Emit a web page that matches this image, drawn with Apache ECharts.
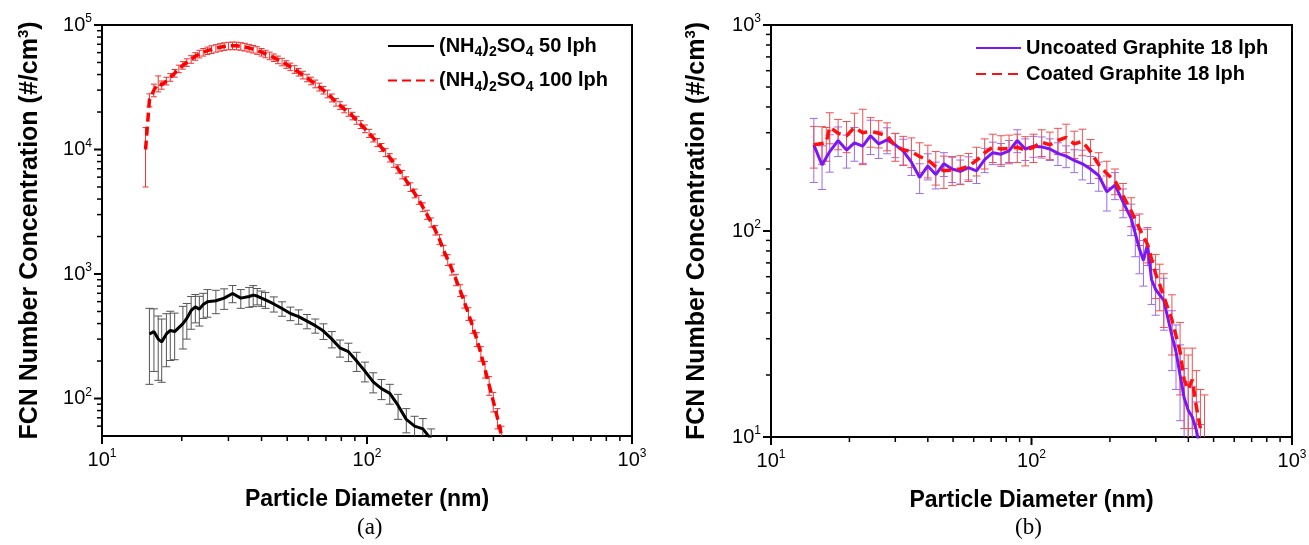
<!DOCTYPE html>
<html><head><meta charset="utf-8">
<script src="https://cdn.jsdelivr.net/npm/echarts@6/dist/echarts.min.js"></script>
<style>html,body{margin:0;padding:0;background:#fff}#c{width:1309px;height:545px}</style>
</head><body><div id="c"></div>
<script>
// ---- Panel (a): (NH4)2SO4 50 lph ----
const dA50 = [15.1, 15.7, 16.3, 16.8, 17.5, 18.1, 18.8, 20.2, 20.9, 21.7, 22.5, 23.3, 24.1, 25.0, 26.9, 28.9, 31.1, 33.4, 35.9, 37.2, 38.5, 40.0, 41.4, 44.5, 47.8, 51.4, 55.2, 59.4, 63.8, 68.5, 73.7, 79.1, 85.1, 91.4, 98.2, 105.5, 113.4, 121.9, 131.0, 140.7, 151.2, 162.5, 174.7];
const vA50 = [330, 345, 300, 285, 330, 352, 345, 400, 440, 510, 545, 522, 570, 600, 610, 640, 698, 640, 660, 677, 665, 640, 620, 575, 528, 482, 455, 418, 385, 348, 300, 255, 238, 200, 166, 136, 120, 110, 88, 68, 60, 57, 47];
const eA50 = [200, 180, 160, 150, 150, 150, 140, 150, 140, 150, 140, 140, 130, 150, 130, 120, 110, 110, 120, 130, 100, 90, 90, 80, 70, 60, 60, 55, 50, 50, 45, 40, 40, 35, 30, 25, 22, 20, 20, 15, 12, 12, 10];
// ---- Panel (a): (NH4)2SO4 100 lph ----
const dA100 = [14.6, 15.1, 15.7, 16.3, 16.8, 17.5, 18.1, 18.8, 19.5, 20.2, 20.9, 21.7, 22.5, 23.3, 24.1, 25.0, 25.9, 26.9, 27.9, 28.9, 30.0, 31.1, 32.2, 33.4, 34.6, 35.9, 37.2, 38.5, 40.0, 41.4, 42.9, 44.5, 46.1, 47.8, 49.6, 51.4, 53.3, 55.2, 57.3, 59.4, 61.5, 63.8, 66.1, 68.5, 71.0, 73.7, 76.4, 79.1, 82.0, 85.1, 88.2, 91.4, 94.7, 98.2, 101.8, 105.5, 109.4, 113.4, 117.6, 121.9, 126.3, 131.0, 135.8, 140.7, 145.9, 151.2, 156.8, 162.5, 168.5, 174.7, 181.1, 187.7, 194.6, 201.7, 209.1, 216.7, 224.7, 232.9, 241.4, 250.3, 259.5, 269.0, 278.8, 289.0, 299.6, 310.6, 322.0, 333.8];
const vA100 = [10000, 25000, 30000, 34000, 33000, 35500, 38000, 41000, 44500, 47500, 50000, 53000, 56000, 58500, 60500, 62200, 63600, 65000, 66200, 67200, 67900, 68200, 68000, 67400, 66500, 65300, 64000, 62500, 60500, 58600, 56600, 54700, 52600, 50500, 48300, 46200, 44000, 41800, 39700, 37600, 35600, 33700, 31800, 30000, 28000, 26000, 24000, 22600, 21200, 19900, 18600, 17200, 15900, 14700, 13500, 12400, 11400, 10400, 9500, 8600, 7800, 7000, 6300, 5600, 5000, 4450, 3950, 3450, 3000, 2600, 2250, 1900, 1550, 1300, 1090, 900, 740, 600, 480, 380, 300, 230, 172, 128, 95, 70, 50, 36];
const eA100 = [5000, 3000, 3500, 5000, 2500, 2500, 2700, 2900, 3100, 3300, 3500, 3700, 3900, 4100, 4200, 4300, 4500, 4500, 4600, 4700, 4700, 4800, 4800, 4700, 4700, 4600, 4500, 4400, 4200, 4100, 4000, 3800, 3700, 3500, 3400, 3200, 3100, 2900, 2800, 2600, 2500, 2400, 2300, 2100, 2000, 1900, 1700, 1600, 1500, 1400, 1300, 1250, 1150, 1050, 1000, 900, 850, 780, 720, 660, 600, 540, 490, 440, 400, 360, 320, 280, 250, 220, 195, 170, 150, 130, 110, 95, 80, 68, 56, 46, 38, 31, 26, 22, 17, 13, 10, 8];
// ---- Panel (b): Uncoated Graphite 18 lph ----
const dBunc = [14.6, 15.7, 16.8, 18.1, 19.5, 20.9, 22.5, 24.1, 25.9, 27.9, 30.0, 32.2, 34.6, 37.2, 40.0, 42.9, 46.1, 49.6, 53.3, 57.3, 61.5, 66.1, 71.0, 76.4, 82.0, 88.2, 94.7, 101.8, 109.4, 117.6, 126.3, 135.8, 145.9, 156.8, 168.5, 181.1, 194.6, 209.1, 224.7, 241.4, 250.3, 259.5, 269.0, 278.8, 289.0, 299.6, 322.0, 346.0, 358.7, 371.8, 385.4, 399.5, 414.2, 429.4, 445.1];
const vBunc = [262, 209, 243, 275, 247, 268, 258, 290, 265, 277, 262, 244, 216, 182, 207, 188, 212, 200, 195, 203, 196, 222, 240, 236, 245, 275, 250, 258, 256, 250, 238, 231, 220, 212, 200, 186, 155, 167, 138, 115, 97, 82, 72, 86, 58, 52, 46, 31, 26, 20, 15.5, 13.5, 12.5, 10.8, 8.5];
const eBunc = [90, 50, 50, 45, 45, 50, 45, 55, 40, 40, 35, 35, 30, 30, 30, 28, 28, 28, 26, 26, 26, 30, 30, 30, 30, 35, 30, 30, 30, 30, 30, 28, 28, 35, 30, 30, 30, 25, 22, 20, 22, 20, 18, 18, 14, 13, 13, 10, 9, 8, 6, 5, 5, 4, 3];
// ---- Panel (b): Coated Graphite 18 lph ----
const dBcoat = [14.6, 15.7, 16.3, 16.8, 18.1, 19.5, 20.9, 22.5, 24.1, 25.9, 27.9, 30.0, 32.2, 34.6, 37.2, 40.0, 42.9, 46.1, 49.6, 53.3, 57.3, 61.5, 66.1, 71.0, 76.4, 82.0, 88.2, 94.7, 101.8, 109.4, 117.6, 126.3, 135.8, 145.9, 156.8, 168.5, 181.1, 194.6, 209.1, 224.7, 241.4, 259.5, 278.8, 299.6, 310.6, 322.0, 346.0, 371.8, 385.4, 399.5, 414.2, 429.4, 445.1, 461.4];
const vBcoat = [262, 266, 268, 320, 298, 290, 318, 300, 305, 298, 290, 258, 248, 243, 230, 221, 205, 196, 198, 200, 206, 220, 240, 255, 250, 252, 255, 247, 255, 270, 262, 275, 285, 265, 272, 243, 210, 190, 175, 148, 125, 103, 86, 62, 55, 48, 37, 26, 19, 17, 19, 14, 11, 11];
const eBcoat = [60, 55, 50, 55, 50, 50, 55, 90, 50, 45, 45, 40, 40, 40, 38, 40, 38, 35, 32, 32, 32, 35, 40, 40, 40, 40, 40, 40, 40, 40, 40, 40, 45, 40, 40, 35, 30, 28, 25, 22, 20, 18, 16, 15, 14, 14, 12, 10, 8, 8, 8, 7, 6, 5];
// ---- ticks ----
const xMajor = [10, 100, 1000];
const xMinor = [20, 30, 40, 50, 60, 70, 80, 90, 200, 300, 400, 500, 600, 700, 800, 900];
const yMajorA = [100, 1000, 10000, 100000];
const yMinorA = [60, 70, 80, 90, 200, 300, 400, 500, 600, 700, 800, 900, 2000, 3000, 4000, 5000, 6000, 7000, 8000, 9000, 20000, 30000, 40000, 50000, 60000, 70000, 80000, 90000];
const yMajorB = [10, 100, 1000];
const yMinorB = [20, 30, 40, 50, 60, 70, 80, 90, 200, 300, 400, 500, 600, 700, 800, 900];
const names = ['(NH4)2SO4 50 lph', '(NH4)2SO4 100 lph', 'Uncoated Graphite 18 lph', 'Coated Graphite 18 lph'];

const FF = 'Liberation Sans, Arial, sans-serif';
const supRich = {
  b: {fontSize: 20, fontFamily: FF, color: '#000'},
  s: {fontSize: 12, fontFamily: FF, color: '#000', padding: [0, 0, 12, 0]}
};
const supFmt = v => '{b|10}{s|' + Math.round(Math.log10(v)) + '}';

function majorAxis(gi, min, max, ticks, isX, extra) {
  return Object.assign({
    type: 'log', logBase: 10, gridIndex: gi, min: min, max: max,
    position: isX ? 'bottom' : 'left',
    axisLine: {show: true, onZero: false, lineStyle: {color: '#000', width: 2}},
    axisTick: {show: false},
    axisLabel: {show: true, customValues: ticks, formatter: supFmt, rich: supRich, margin: isX ? 12 : 10, color: '#000'},
    splitLine: {show: false}, minorTick: {show: false}, minorSplitLine: {show: false},
    nameLocation: 'middle', nameMoveOverlap: false
  }, extra);
}
const xName = {name: 'Particle Diameter (nm)', nameGap: 52,
  nameTextStyle: {fontSize: 23, fontWeight: 'bold', fontFamily: FF, color: '#000'}};
const yName = gap => ({name: 'FCN Number Concentration (#/cm{s|3})', nameGap: gap,
  nameTextStyle: {fontSize: 25, fontWeight: 'bold', fontFamily: FF, color: '#000',
    rich: {s: {fontSize: 15, fontWeight: 'bold', fontFamily: FF, color: '#000', padding: [0, 0, 14, 0]}}}});

// tick marks drawn through the axes' own scales
function tickSeries(xi, yi, values, isX, other, len, width) {
  return {type: 'custom', xAxisIndex: xi, yAxisIndex: yi, silent: true, z: 5, clip: false,
    encode: {x: 0, y: 1},
    data: values.map(v => isX ? [v, other] : [other, v]),
    renderItem: function (params, api) {
      const cs = params.coordSys;
      const p = api.coord([api.value(0), api.value(1)]);
      const shape = isX
        ? {x1: p[0], y1: cs.y + cs.height, x2: p[0], y2: cs.y + cs.height + len}
        : {x1: cs.x - len, y1: p[1], x2: cs.x, y2: p[1]};
      return {type: 'line', shape: shape, style: {stroke: '#000', lineWidth: width}};
    }};
}
function errRender(color, capW) {
  return function (params, api) {
    const x = api.value(0), y = api.value(1), e = api.value(2);
    const cs = params.coordSys;
    const top = cs.y, bot = cs.y + cs.height;
    const ph = api.coord([x, y + e]);
    const pl = (y - e) > 0 ? api.coord([x, y - e]) : [ph[0], bot + 10];
    const yHi = Math.max(ph[1], top), yLo = Math.min(pl[1], bot);
    if (yHi >= bot || yLo <= top) return null;
    const st = {stroke: color, lineWidth: 1};
    const ch = [{type: 'line', shape: {x1: ph[0], y1: yHi, x2: ph[0], y2: yLo}, style: st}];
    if (ph[1] >= top) ch.push({type: 'line', shape: {x1: ph[0] - capW, y1: ph[1], x2: ph[0] + capW, y2: ph[1]}, style: st});
    if (pl[1] <= bot) ch.push({type: 'line', shape: {x1: pl[0] - capW, y1: pl[1], x2: pl[0] + capW, y2: pl[1]}, style: st});
    return {type: 'group', children: ch};
  };
}
function errSeries(d, v, e, xi, yi, color, capW) {
  return {type: 'custom', xAxisIndex: xi, yAxisIndex: yi, silent: true, z: 1, clip: true,
    renderItem: errRender(color, capW), encode: {x: 0, y: 1},
    data: d.map((x, i) => [x, v[i], e[i]])};
}
function lineSeries(name, d, v, xi, yi, color, width, type) {
  return {type: 'line', name: name, xAxisIndex: xi, yAxisIndex: yi, z: 3, clip: true,
    symbol: 'none', showSymbol: false, smooth: false, silent: true,
    itemStyle: {color: color},
    lineStyle: {color: color, width: width, type: type},
    data: d.map((x, i) => [x, v[i]])};
}
const subRich = {u: {fontSize: 14, fontWeight: 'bold', fontFamily: FF, color: '#000', padding: [13, 0, 0, 0]}};
const legFmt = n => n.replace('(NH4)2SO4', '(NH{u|4}){u|2}SO{u|4}');
const hideSym = {color: 'rgba(0,0,0,0)', borderColor: 'rgba(0,0,0,0)', borderWidth: 0};

const chart = echarts.init(document.getElementById('c'), null, {renderer: 'canvas'});
chart.setOption({
  animation: false,
  backgroundColor: '#fff',
  textStyle: {fontFamily: FF},
  title: [
    {text: '(a)', left: 357, top: 516, padding: 0, textStyle: {fontFamily: 'Liberation Serif', fontSize: 23, fontWeight: 'normal', color: '#000'}},
    {text: '(b)', left: 1015, top: 516, padding: 0, textStyle: {fontFamily: 'Liberation Serif', fontSize: 23, fontWeight: 'normal', color: '#000'}}
  ],
  legend: [
    {data: [names[0], names[1]], orient: 'vertical', left: 387, top: 36, itemWidth: 46, itemHeight: 14, itemGap: 11,
     padding: 0, selectedMode: false, formatter: legFmt, itemStyle: hideSym,
     textStyle: {fontSize: 20, fontWeight: 'bold', fontFamily: FF, color: '#000', rich: subRich}},
    {data: [names[2], names[3]], orient: 'vertical', left: 975, top: 38, itemWidth: 45, itemHeight: 14, itemGap: 6,
     padding: 0, selectedMode: false, itemStyle: hideSym,
     textStyle: {fontSize: 20, fontWeight: 'bold', fontFamily: FF, color: '#000'}}
  ],
  grid: [
    {left: 102, top: 25, width: 530, height: 411, show: true, borderColor: '#000', borderWidth: 2, backgroundColor: 'transparent', containLabel: false, outerBoundsMode: 'none'},
    {left: 771, top: 25, width: 521, height: 412, show: true, borderColor: '#000', borderWidth: 2, backgroundColor: 'transparent', containLabel: false, outerBoundsMode: 'none'}
  ],
  xAxis: [
    majorAxis(0, 10, 1000, xMajor, true, xName),
    majorAxis(1, 10, 1000, xMajor, true, xName)
  ],
  yAxis: [
    majorAxis(0, 50, 100000, yMajorA, false, yName(57)),
    majorAxis(1, 10, 1000, yMajorB, false, yName(59))
  ],
  series: [
    tickSeries(0, 0, xMajor, true, 100, 8, 2),
    tickSeries(0, 0, xMinor, true, 100, 5, 1.5),
    tickSeries(0, 0, yMajorA, false, 100, 8, 2),
    tickSeries(0, 0, yMinorA, false, 100, 5, 1.5),
    tickSeries(1, 1, xMajor, true, 100, 8, 2),
    tickSeries(1, 1, xMinor, true, 100, 5, 1.5),
    tickSeries(1, 1, yMajorB, false, 100, 8, 2),
    tickSeries(1, 1, yMinorB, false, 100, 5, 1.5),
    errSeries(dA50, vA50, eA50, 0, 0, '#555555', 4),
    errSeries(dA100, vA100, eA100, 0, 0, '#ee3333', 3),
    lineSeries(names[0], dA50, vA50, 0, 0, '#000000', 3, 'solid'),
    lineSeries(names[1], dA100, vA100, 0, 0, '#ff0000', 3.5, [9, 5]),
    errSeries(dBunc, vBunc, eBunc, 1, 1, '#9a6cf2', 4),
    errSeries(dBcoat, vBcoat, eBcoat, 1, 1, '#f25050', 4),
    lineSeries(names[2], dBunc, vBunc, 1, 1, '#7b16f5', 3, 'solid'),
    lineSeries(names[3], dBcoat, vBcoat, 1, 1, '#ff1010', 3.5, [10, 6])
  ]
});
</script></body></html>
